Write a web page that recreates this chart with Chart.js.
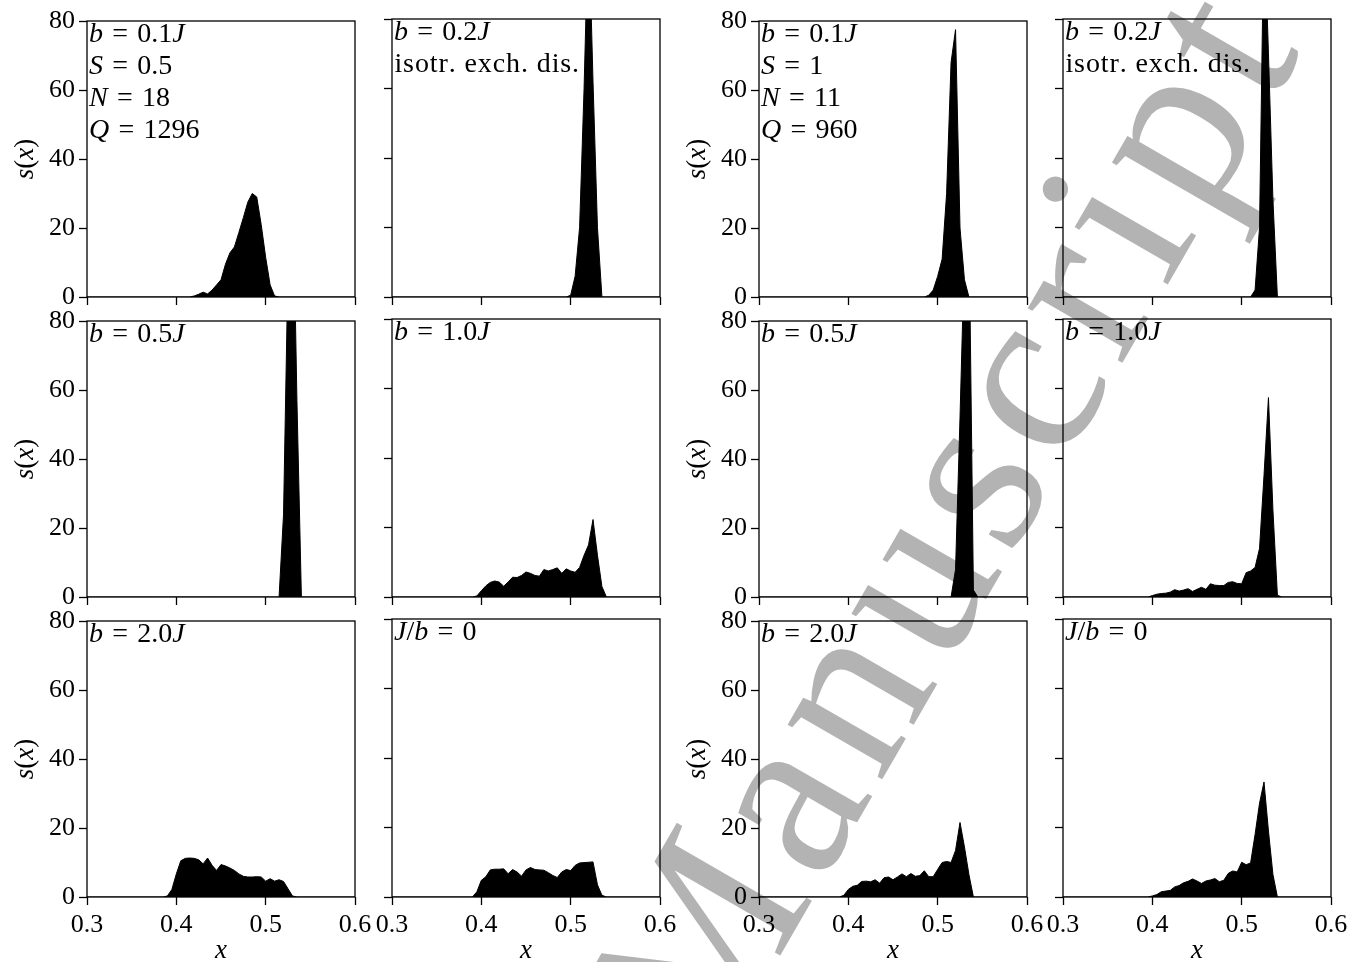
<!DOCTYPE html>
<html>
<head>
<meta charset="utf-8">
<script src="https://cdn.jsdelivr.net/npm/chart.js@4.4.1/dist/chart.umd.min.js"></script>
<style>
  html, body { margin: 0; padding: 0; background: #fff; }
  #page { position: relative; width: 1360px; height: 962px; overflow: hidden; }
  #page canvas { position: absolute; }
</style>
</head>
<body>
<div id="page">
  <canvas id="mark" width="1360" height="962" style="left:0;top:0;width:1360px;height:962px"></canvas>
</div>
<script>
// x grid shared by all panels
const xGrid = [0.30, 0.380, 0.385, 0.390, 0.395, 0.400, 0.405, 0.410, 0.415, 0.420, 0.425, 0.430,
  0.435, 0.440, 0.445, 0.450, 0.455, 0.460, 0.465, 0.470, 0.475, 0.480, 0.485, 0.490, 0.495,
  0.500, 0.505, 0.510, 0.515, 0.520, 0.525, 0.530, 0.535, 0.540, 0.545, 0.60];

// S = 0.5, N = 18
const s05b01 = [0, 0,0,0,0,0,0,0,0, 0.3,0.8,1.4,0.9,2.0,3.5,5.0,9.5,12.8,14.5,18.7,23,27.5,30,29,21,11.5,3.5,0.3, 0,0,0,0,0,0,0,0];
const s05b02 = [0, 0,0,0,0,0,0,0,0,0,0,0,0,0,0,0,0,0,0,0,0,0,0,0,0, 0.5,6,20,60,110,62,20, 0,0,0,0];
const s05b05 = [0, 0,0,0,0,0,0,0,0,0,0,0,0,0,0,0,0,0,0,0,0,0,0,0,0,0,0,0,0, 24,96,128,57, 0,0,0];
const s05b10 = [0, 0,0,0, 0.3,1.8,3.2,4.2,4.6,4.3,3.1,4.3,5.7,5.6,6.2,7.2,6.8,6.2,6.0,7.9,7.5,7.9,8.4,6.8,8.1,7.5,7.1,8.5,12,15,22.3,12,3, 0,0,0];
const s05b20 = [0, 0,0, 0.3,2.2,6.7,10.5,11.2,11.3,11.2,10.8,9.6,11.3,9.2,7.7,9.4,9.0,8.4,7.7,6.7,6.0,5.8,5.8,5.9,5.8,4.6,5.3,4.6,5.0,4.5,2.4,0.3, 0,0,0,0];
const s05j0  = [0, 0,0,0, 1.5,4.8,5.8,7.8,8.0,8.0,8.1,6.7,7.9,7.2,6.0,7.8,8.5,7.9,7.8,7.7,7.0,6.2,5.6,7.2,7.9,7.6,9.1,9.8,9.9,10.0,10.1,3.5,0.5, 0,0,0];

// S = 1, N = 11
const s1b01 = [0, 0,0,0,0,0,0,0,0,0,0,0,0,0,0,0,0,0,0,0,0,0,0, 0.5,2,6,11,30,68,77.5,20,5, 0,0,0,0];
const s1b02 = [0, 0,0,0,0,0,0,0,0,0,0,0,0,0,0,0,0,0,0,0,0,0,0,0,0,0,0,0, 2,20,110,70,28, 0,0,0];
const s1b05 = [0, 0,0,0,0,0,0,0,0,0,0,0,0,0,0,0,0,0,0,0,0,0,0,0,0,0,0,0,0, 8,52,100,110,2, 0,0];
const s1b10 = [0, 0,0,0, 0, 0.4,0.8,1.0,1.1,1.4,2.1,1.7,2.0,2.4,1.6,2.2,2.8,2.2,3.8,3.4,3.3,3.3,4.2,4.4,3.9,3.8,7.0,7.5,8.5,14,35,57.4,25,0.5, 0,0];
const s1b20 = [0, 0,0,0, 0.5,2.2,3.1,3.4,4.5,4.6,4.4,5.0,4.0,5.6,5.8,5.0,5.8,6.7,5.9,6.8,6.0,6.2,7.6,5.9,5.9,8.0,10.0,10.3,10.0,13.5,21.6,14.5,6.5, 0,0,0];
const s1j0  = [0, 0,0,0,0, 0.3,0.7,1.5,1.7,1.9,2.9,3.3,4.1,4.5,5.2,4.6,3.9,4.6,4.9,5.3,4.4,4.8,6.8,7.5,7.2,10.0,9.3,9.8,18,27,33.1,19,6.5, 0,0,0];

const xTicks = [0.3, 0.4, 0.5, 0.6];
const yTicks = [0, 20, 40, 60, 80];

const panels = [
  { col: 0, row: 0, data: s05b01, text: ['$b = 0.1J$', '$S = 0.5$', '$N = 18$', '$Q = 1296$'] },
  { col: 1, row: 0, data: s05b02, text: ['$b = 0.2J$', 'isotr. exch. dis.'] },
  { col: 2, row: 0, data: s1b01,  text: ['$b = 0.1J$', '$S = 1$', '$N = 11$', '$Q = 960$'] },
  { col: 3, row: 0, data: s1b02,  text: ['$b = 0.2J$', 'isotr. exch. dis.'] },
  { col: 0, row: 1, data: s05b05, text: ['$b = 0.5J$'] },
  { col: 1, row: 1, data: s05b10, text: ['$b = 1.0J$'] },
  { col: 2, row: 1, data: s1b05,  text: ['$b = 0.5J$'] },
  { col: 3, row: 1, data: s1b10,  text: ['$b = 1.0J$'] },
  { col: 0, row: 2, data: s05b20, text: ['$b = 2.0J$'] },
  { col: 1, row: 2, data: s05j0,  text: ['$J/b = 0$'] },
  { col: 2, row: 2, data: s1b20,  text: ['$b = 2.0J$'] },
  { col: 3, row: 2, data: s1j0,   text: ['$J/b = 0$'] },
];

const colLeft = [87, 392, 759, 1063];
const rowTop = [19, 319, 619];
const plotW = 268, plotH = 278;
const FONT = '"Liberation Serif", "DejaVu Serif", serif';

// tiny math-ish text: inside $...$ letters are italic, '=' gets thick spaces,
// plain text gets a little tracking (LaTeX roman is wider than Times)
function mathRuns(str) {
  const runs = [];
  str.split('$').forEach((part, k) => {
    if (k % 2 === 0) {
      for (const ch of part) runs.push({ t: ch, it: false, pad: 0.016 });
      return;
    }
    for (const ch of part) {
      if (ch === ' ') continue;
      if (ch === '=') { runs.push({ t: '=', it: false, pad: 0.33 }); continue; }
      const it = /[A-Za-z]/.test(ch);
      const last = runs[runs.length - 1];
      if (last && last.it === it && !last.pad) last.t += ch; else runs.push({ t: ch, it, pad: 0 });
    }
  });
  return runs;
}
function fontFor(it, size) { return (it ? 'italic ' : '') + size + 'px ' + FONT; }
function measureMath(ctx, str, size) {
  let w = 0;
  mathRuns(str).forEach(r => { ctx.font = fontFor(r.it, size); w += ctx.measureText(r.t).width + 2 * r.pad * size; });
  return w;
}
function drawMath(ctx, str, x, y, size) {
  mathRuns(str).forEach(r => {
    ctx.font = fontFor(r.it, size);
    x += r.pad * size;
    ctx.fillText(r.t, x, y);
    x += ctx.measureText(r.t).width + r.pad * size;
  });
}

const panelText = {
  id: 'panelText',
  afterDatasetsDraw(chart) {
    const { ctx, chartArea: a } = chart;
    ctx.save();
    ctx.strokeStyle = '#000';
    ctx.lineWidth = 1.3;
    ctx.strokeRect(a.left, a.top, a.right - a.left, a.bottom - a.top);
    ctx.restore();
  },
  afterDraw(chart, args, opts) {
    const { ctx, chartArea: a } = chart;
    ctx.save();
    ctx.fillStyle = '#000';
    ctx.textBaseline = 'alphabetic';
    ctx.textAlign = 'left';
    opts.lines.forEach((ln, i) => drawMath(ctx, ln, a.left + 2, a.top + 21 + i * 32, 28));
    if (opts.xlab) {
      const w = measureMath(ctx, '$x$', 27);
      drawMath(ctx, '$x$', (a.left + a.right) / 2 - w / 2, a.bottom + 61, 27);
    }
    if (opts.ylab) {
      ctx.translate(a.left - 54, (a.top + a.bottom) / 2);
      ctx.rotate(-Math.PI / 2);
      const w = measureMath(ctx, '$s(x)$', 27);
      drawMath(ctx, '$s(x)$', -w / 2, 0, 27);
    }
    ctx.restore();
  }
};

const page = document.getElementById('page');

panels.forEach(p => {
  const cv = document.createElement('canvas');
  const W = 80 + plotW + 24, H = 15 + plotH + 68;
  cv.width = W; cv.height = H;
  cv.style.width = W + 'px'; cv.style.height = H + 'px';
  cv.style.left = (colLeft[p.col] - 80) + 'px';
  cv.style.top = (rowTop[p.row] - 15) + 'px';
  page.appendChild(cv);
  const showY = p.col === 0 || p.col === 2;
  const showX = p.row === 2;
  const tickFont = { family: FONT, size: 26, lineHeight: 1 };
  new Chart(cv, {
    type: 'line',
    data: {
      datasets: [{
        data: xGrid.map((x, i) => ({ x: x, y: p.data[i] })),
        fill: 'origin',
        backgroundColor: '#000',
        borderColor: '#000',
        borderWidth: 1,
        pointRadius: 0,
        tension: 0
      }]
    },
    options: {
      responsive: false,
      animation: false,
      devicePixelRatio: 1,
      layout: { padding: { left: 0, top: 15, right: 24, bottom: 0 } },
      plugins: {
        legend: { display: false },
        tooltip: { enabled: false },
        panelText: { lines: p.text, xlab: showX, ylab: showY }
      },
      scales: {
        x: {
          type: 'linear', min: 0.3, max: 0.6,
          afterBuildTicks: s => { s.ticks = xTicks.map(v => ({ value: v })); },
          afterFit: s => { s.height = 68; },
          border: { display: false },
          grid: { drawOnChartArea: false, drawTicks: true, tickLength: 8, tickWidth: 1.3, tickColor: '#000' },
          ticks: { display: showX, color: '#000', padding: 7, maxRotation: 0, autoSkip: false, font: tickFont,
                   callback: v => v.toFixed(1) }
        },
        y: {
          type: 'linear', min: 0, max: 80,
          afterBuildTicks: s => { s.ticks = yTicks.map(v => ({ value: v })); },
          afterFit: s => { s.width = 80; },
          border: { display: false },
          grid: { drawOnChartArea: false, drawTicks: true, tickLength: 8, tickWidth: 1.3, tickColor: '#000' },
          ticks: { display: showY, color: '#000', padding: 4, font: tickFont, callback: v => String(v) }
        }
      }
    },
    plugins: [panelText]
  });
});

// grey watermark behind the panels, drawn letter by letter with wider (TeX-like) spacing
const mk = document.getElementById('mark').getContext('2d');
const wm = 'Manuscript';
const wmSize = 238;
mk.font = wmSize + 'px ' + FONT;
const widths = [...wm].map(c => mk.measureText(c).width);
const track = (4.98 * wmSize - widths.reduce((s, w) => s + w, 0)) / (wm.length - 1);
mk.save();
mk.translate(800, 812);                 // centre of the "a"
mk.rotate(-60 * Math.PI / 180);
mk.fillStyle = '#b3b3b3';
let cx = -(widths[0] + track + widths[1] / 2);
[...wm].forEach((c, i) => {
  mk.fillText(c, cx, 0.23 * wmSize);
  cx += widths[i] + track;
});
mk.restore();
</script>
</body>
</html>
